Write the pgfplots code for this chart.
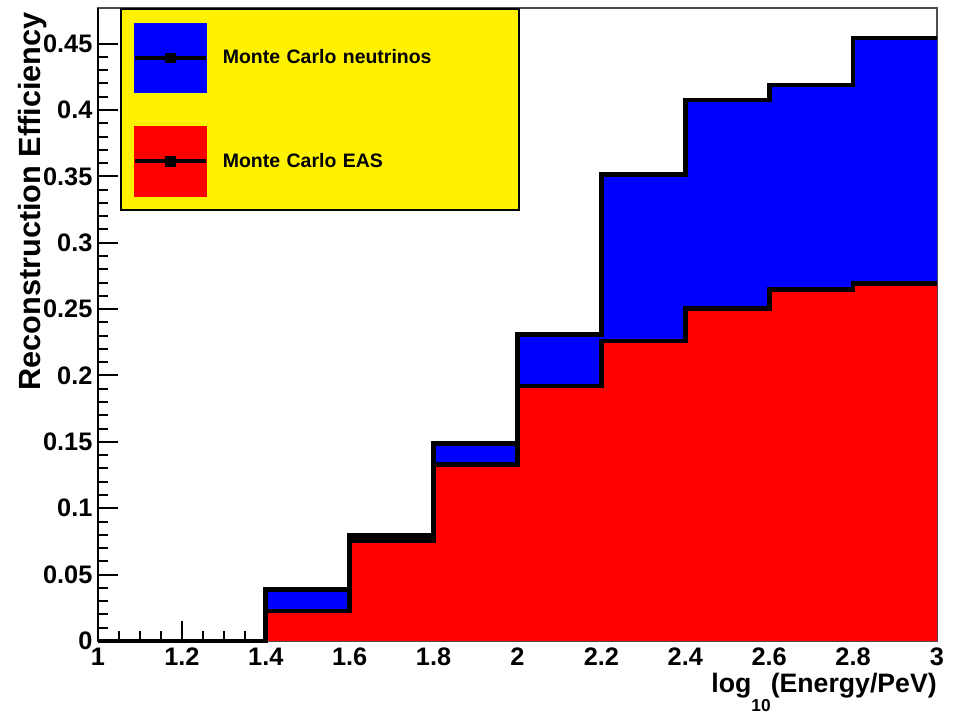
\documentclass[border=0pt]{standalone}
\usepackage{fontspec}
\setmainfont{Liberation Sans}
\usepackage{pgfplots}
\usepackage{pgfplotstable}
\pgfplotsset{compat=1.18}

% Reconstruction efficiency per log10(E/PeV) bin (left bin edge, content)
\pgfplotstableread{
x     y
1.0   0
1.4   0.0388
1.6   0.0795
1.8   0.1490
2.0   0.2310
2.2   0.3516
2.4   0.4074
2.6   0.4187
2.8   0.4541
3.0   0.4541
}\neutrinos
\pgfplotstableread{
x     y
1.0   0
1.4   0.0226
1.6   0.0757
1.8   0.1327
2.0   0.1920
2.2   0.2260
2.4   0.2502
2.6   0.2649
2.8   0.2691
3.0   0.2691
}\eas

\newcommand{\lblfont}{\fontsize{20}{24}\selectfont\bfseries}
\newcommand{\tickfont}{\fontsize{19}{23}\selectfont\bfseries}

\pgfplotsset{
  histlegend/.style={legend image code/.code={
      \fill[#1] (0pt,-25.5pt) rectangle (53.25pt,25.5pt);
      \draw[black,line width=3pt] (0pt,0pt) -- (53.25pt,0pt);
      \fill[black] (23.6pt,-3pt) rectangle (29.6pt,3pt);}},
}

\begin{document}
\begin{tikzpicture}
\path[use as bounding box] (-73.5pt,-54.75pt) rectangle (647.25pt,480.75pt);
\begin{axis}[
  at={(0pt,0pt)}, anchor=south west,
  scale only axis,
  width=629.25pt, height=474.75pt,
  xmin=1, xmax=3, ymin=0, ymax=0.4768,
  clip=false,
  xtick={1,1.2,1.4,1.6,1.8,2,2.2,2.4,2.6,2.8,3},
  xticklabels={1,1.2,1.4,1.6,1.8,2,2.2,2.4,2.6,2.8,3},
  ytick={0,0.05,0.1,0.15,0.2,0.25,0.3,0.35,0.4,0.45},
  yticklabels={0,0.05,0.1,0.15,0.2,0.25,0.3,0.35,0.4,0.45},
  minor x tick num=3, minor y tick num=4,
  xtick pos=bottom, ytick pos=left,
  tick align=inside,
  major tick length=15pt, minor tick length=7.5pt,
  every tick/.style={black, line width=1.5pt},
  /pgf/number format/assume math mode=true,
  ticklabel style={font=\tickfont},
  xticklabel style={inner sep=0pt, yshift=-5pt},
  yticklabel style={inner sep=0pt, xshift=-4pt},
  axis line style={draw=black!70, line width=1.2pt},
  xlabel={log\raisebox{-14pt}{\fontsize{13}{13}\selectfont 10}(Energy/PeV)},
  xlabel style={at={(rel axis cs:1,0)}, anchor=base east, inner sep=0pt,
                yshift=-39pt, font=\lblfont},
  ylabel={Reconstruction Efficiency},
  ylabel style={at={(axis description cs:-0.069,0.9937)}, anchor=base east,
                inner sep=0pt, font=\fontsize{23}{27}\selectfont\bfseries},
  legend cell align=left,
  legend style={at={(axis description cs:0.0262,1)}, anchor=north west,
                fill=yellow, draw=black, line width=1.8pt,
                inner xsep=9pt, inner ysep=10pt,
                row sep=25pt, column sep=11pt,
                font=\fontsize{14.6}{17}\selectfont\bfseries,
                nodes={inner sep=0pt, text width=213pt, align=left}},
]
% filled areas
\addplot[const plot, fill=blue, draw=none, forget plot] table {\neutrinos} \closedcycle;
\addplot[const plot, draw=black, line width=3.5pt, line join=miter, forget plot] table {\neutrinos};
\addplot[const plot, fill=red, draw=none, forget plot] table {\eas} \closedcycle;
\addplot[const plot, draw=black, line width=3.5pt, line join=miter, forget plot] table {\eas};
% left axis is drawn heavier than the rest of the frame
\draw[black, line width=2.2pt] (rel axis cs:0,0) -- (rel axis cs:0,1);

\addlegendimage{histlegend=blue}
\addlegendentry{Monte Carlo neutrinos}
\addlegendimage{histlegend=red}
\addlegendentry{Monte Carlo EAS}
\end{axis}
\end{tikzpicture}
\end{document}
